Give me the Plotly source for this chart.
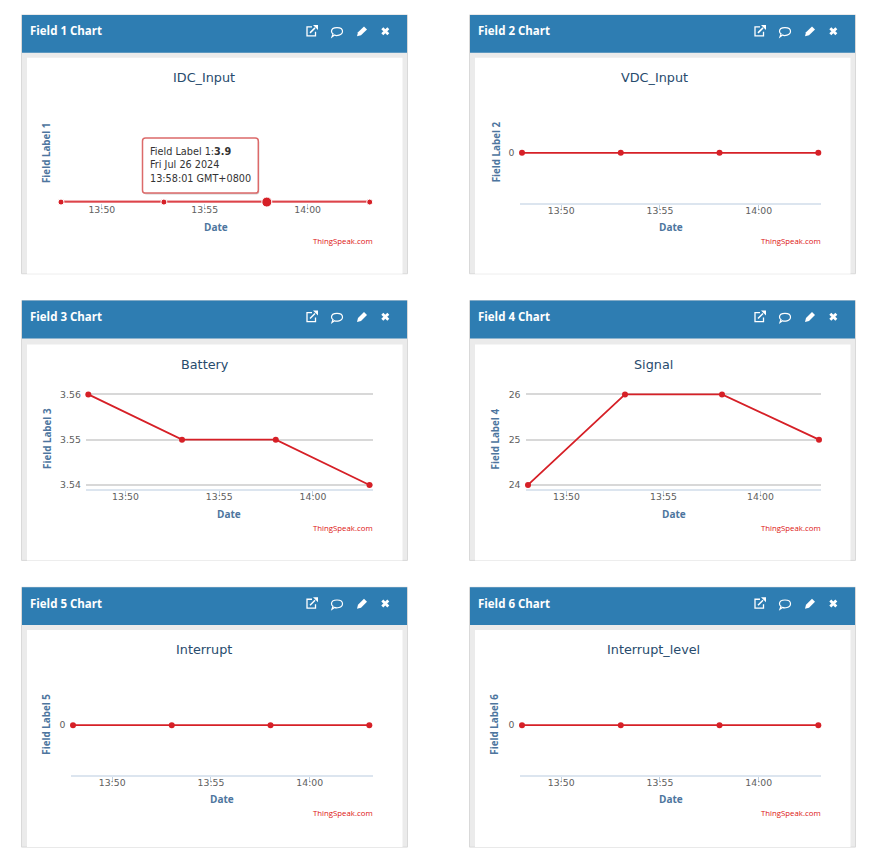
import numpy as np
import plotly.graph_objects as go

W, H = 894, 866

times = ["2024-07-26 13:48:01", "2024-07-26 13:53:01", "2024-07-26 13:58:01", "2024-07-26 14:03:01"]
tick_times = ["2024-07-26 13:50:00", "2024-07-26 13:55:00", "2024-07-26 14:00:00"]
tick_labels = ["13:50", "13:55", "14:00"]

field1 = [3.9, 3.9, 3.9, 3.9]
field2 = [0, 0, 0, 0]
field3 = [3.56, 3.55, 3.55, 3.54]
field4 = [24, 26, 26, 25]
field5 = [0, 0, 0, 0]
field6 = [0, 0, 0, 0]

headers = ["Field 1 Chart", "Field 2 Chart", "Field 3 Chart", "Field 4 Chart", "Field 5 Chart", "Field 6 Chart"]
titles = ["IDC_Input", "VDC_Input", "Battery", "Signal", "Interrupt", "Interrupt_level"]
ylabels = ["Field Label 1", "Field Label 2", "Field Label 3", "Field Label 4", "Field Label 5", "Field Label 6"]
yticks = [[], [0], [3.54, 3.55, 3.56], [24, 25, 26], [0], [0]]
series = [field1, field2, field3, field4, field5, field6]

# pixel layout of each panel
P = [
    dict(top=12, ox=0, d0=61.0, d3=369.7, ref=(3.9, 200.0), per=None, axis=200.5, t=(204.3, 75), yl=(46.7, 151), dt=(215.7, 225), foot=239, inner=55),
    dict(top=12, ox=448, d0=522.0, d3=818.3, ref=(0, 150.5), per=None, axis=201, t=(654, 75), yl=(496, 150), dt=(670.5, 225), foot=239, inner=55),
    dict(top=299, ox=0, d0=88.3, d3=369.5, ref=(3.55, 438.7), per=4550, axis=488.7, t=(205, 363.5), yl=(48, 438), dt=(229, 513), foot=527, inner=343),
    dict(top=299, ox=448, d0=528.0, d3=819.0, ref=(25, 438.7), per=45.5, axis=488.7, t=(653, 363.5), yl=(495.5, 438), dt=(673.5, 513), foot=527, inner=343),
    dict(top=587, ox=0, d0=73.0, d3=369.3, ref=(0, 725.5), per=None, axis=776, t=(204, 650), yl=(47, 725), dt=(222, 800), foot=814, inner=630),
    dict(top=587, ox=448, d0=522.0, d3=818.3, ref=(0, 725.5), per=None, axis=776, t=(653.5, 650), yl=(495, 725), dt=(670.5, 800), foot=814, inner=630),
]

BLUE = "#2e7db2"
RED = "#d62027"
TITLE = "#274b6d"
AXT = "#4d759e"
LAB = "#606060"
FONT = "DejaVu Sans"
HEAD = "Open Sans"


def fx(x):
    return x / W


def fy(y):
    return 1 - y / H


def path(tokens):
    out = []
    i = 0
    while i < len(tokens):
        t = tokens[i]
        if isinstance(t, str):
            out.append(t)
            i += 1
        else:
            out.append(f"{fx(t):.5f},{fy(tokens[i + 1]):.5f}")
            i += 2
    return " ".join(out)


shapes, ann = [], []


def rect(x0, y0, x1, y1, fill, line=None, lw=0):
    shapes.append(dict(type="rect", xref="paper", yref="paper", x0=fx(x0), x1=fx(x1), y0=fy(y0), y1=fy(y1),
                       fillcolor=fill, line=dict(color=line or fill, width=lw), layer="below"))


def pth(tokens, fill=None, line=None, lw=0, layer="below"):
    s = dict(type="path", xref="paper", yref="paper", path=path(tokens), layer=layer,
             line=dict(color=line or "rgba(0,0,0,0)", width=lw))
    if fill:
        s["fillcolor"] = fill
    shapes.append(s)


def text(x, y, s, size, color, family=FONT, xa="center", angle=0):
    ann.append(dict(xref="paper", yref="paper", x=fx(x), y=fy(y), text=s, showarrow=False, xanchor=xa,
                    yanchor="middle", textangle=angle, borderpad=0, font=dict(size=size, color=color, family=family)))


def icons(ox, oy):
    # external link
    pth(["M", 312 + ox, 24 + oy, "L", 307 + ox, 24 + oy, "L", 307 + ox, 33 + oy, "L", 315.5 + ox, 33 + oy, "L", 315.5 + ox, 29 + oy],
        line="white", lw=1.3)
    pth(["M", 310 + ox, 30 + oy, "L", 315 + ox, 25 + oy], line="white", lw=1.5)
    pth(["M", 313 + ox, 22 + oy, "L", 318 + ox, 22 + oy, "L", 318 + ox, 27 + oy, "Z"], fill="white")
    # comment bubble
    cx, cy = 337 + ox, 28.5 + oy
    pth(["M", cx - 5.5, cy, "C", cx - 5.5, cy - 5, cx + 5.5, cy - 5, cx + 5.5, cy,
         "C", cx + 5.5, cy + 4.5, cx - 1, cy + 4.5, cx - 2.5, cy + 3.7,
         "L", cx - 5, cy + 5.5, "L", cx - 4, cy + 2.5, "C", cx - 5, cy + 2, cx - 5.5, cy + 1, cx - 5.5, cy, "Z"],
        line="white", lw=1.2)
    # pencil
    pth(["M", 357 + ox, 33.5 + oy, "L", 358 + ox, 29.5 + oy, "L", 364 + ox, 23.5 + oy, "L", 367 + ox, 26.5 + oy,
         "L", 361 + ox, 32.5 + oy, "Z"], fill="white")
    # cross
    c, d = 385.3 + ox, 28.3 + oy
    pth(["M", c - 3, d - 3, "L", c + 3, d + 3, "M", c + 3, d - 3, "L", c - 3, d + 3], line="white", lw=2.8)


fig = go.Figure()
t_ms = np.array(times, dtype="datetime64[ms]").astype("int64")
layout_axes = {}

for i, p in enumerate(P):
    n = i + 1
    top, ox = p["top"], p["ox"]
    bottom = 260 if top == 12 else 261
    rect(21.5 + ox, top, 407.5 + ox, top + bottom, "#ebebeb", "#d9d9d9", 1)
    rect(27 + ox, p["inner"], 402.5 + ox, top + bottom, "white")
    rect(22 + ox, top, 407 + ox, top + 38, BLUE)
    icons(ox, top - 12)
    text(28.5 + ox, top + 16, f"<b>{headers[i]}</b>", 11.5, "white", HEAD, xa="left")
    text(p["t"][0], p["t"][1], titles[i], 12.8, TITLE)
    text(p["yl"][0], p["yl"][1], f"<b>{ylabels[i]}</b>", 9.8, AXT, HEAD, angle=-90)
    text(p["dt"][0], p["dt"][1], "<b>Date</b>", 10, AXT, HEAD)
    text(373.5 + ox, p["foot"], "ThingSpeak.com", 7.8, "#dd1111", HEAD, xa="right")

    # axes: map pixel plot box onto data scale
    left = p["d0"] - 2.5
    right = 373 + ox
    ms_per_px = (t_ms[3] - t_ms[0]) / (p["d3"] - p["d0"])
    xr0 = t_ms[0] - (p["d0"] - left) * ms_per_px
    xr1 = t_ms[3] + (right - p["d3"]) * ms_per_px
    xr = [str(np.datetime64(int(xr0), "ms")).replace("T", " "), str(np.datetime64(int(xr1), "ms")).replace("T", " ")]

    box_top = p["axis"] - 100 if p["per"] is None else 390
    rv, rp = p["ref"]
    per = p["per"] or 1.0  # px per data unit
    y_lo = rv - (p["axis"] - rp) / per
    y_hi = rv + (rp - box_top) / per

    xn = "xaxis" if n == 1 else f"xaxis{n}"
    yn = "yaxis" if n == 1 else f"yaxis{n}"
    layout_axes[xn] = dict(domain=[fx(left), fx(right)], range=xr, type="date", anchor=f"y{n if n > 1 else ''}",
                           tickmode="array", tickvals=tick_times, ticktext=tick_labels,
                           ticks="outside", ticklen=5, tickwidth=1, tickcolor="#c0d0e0",
                           ticklabelstandoff=-7,
                           showline=True, linecolor="#dce5ef" if i != 0 else "rgba(0,0,0,0)", linewidth=1.5,
                           showgrid=False, zeroline=False, tickfont=dict(size=9.3, color=LAB, family=FONT))
    layout_axes[yn] = dict(domain=[fy(p["axis"]), fy(box_top)], range=[y_lo, y_hi], anchor=f"x{n if n > 1 else ''}",
                           tickmode="array", tickvals=yticks[i], ticktext=[str(v) for v in yticks[i]],
                           showticklabels=bool(yticks[i]), ticks="", ticklabelstandoff=4,
                           showgrid=i in (2, 3), gridcolor="#d8d8d8", gridwidth=1.5, zeroline=False, showline=False,
                           tickfont=dict(size=9.3, color=LAB, family=FONT))

    xa = "x" if n == 1 else f"x{n}"
    ya = "y" if n == 1 else f"y{n}"
    if i == 0:
        fig.add_trace(go.Scatter(x=times, y=series[i], xaxis=xa, yaxis=ya, mode="lines", cliponaxis=False,
                                 line=dict(color="rgba(214,32,39,0.35)", width=4), showlegend=False, hoverinfo="skip"))
    sizes = [6, 6, 10, 6] if i == 0 else 6
    fig.add_trace(go.Scatter(x=times, y=series[i], xaxis=xa, yaxis=ya, mode="lines+markers", cliponaxis=False,
                             line=dict(color=RED, width=1.8), marker=dict(color=RED, size=sizes, opacity=1),
                             name=ylabels[i], showlegend=False))

# tooltip
x0, x1, y0, y1, r = 142.5, 258.3, 135.7, 191, 3
def rr(dx=0, dy=0):
    a, b, c, d = x0 + dx, x1 + dx, y0 + dy, y1 + dy
    return ["M", a + r, c, "L", b - r, c, "Q", b, c, b, c + r, "L", b, d - r, "Q", b, d, b - r, d,
            "L", a + r, d, "Q", a, d, a, d - r, "L", a, c + r, "Q", a, c, a + r, c, "Z"]
pth(rr(1, 1.5), fill="rgba(0,0,0,0.18)", layer="above")
pth(rr(), fill="white", line="#dc6a6a", lw=1.5, layer="above")
text(148.5, 149.5, f"Field Label 1:<b>{field1[2]}</b>", 9.7, "#333333", xa="left")
text(148.5, 162.5, "Fri Jul 26 2024", 9.7, "#333333", xa="left")
text(148.5, 176.3, "13:58:01 GMT+0800", 9.7, "#333333", xa="left")

fig.update_layout(width=W, height=H, margin=dict(l=0, r=0, t=0, b=0), paper_bgcolor="white",
                  plot_bgcolor="rgba(0,0,0,0)", shapes=shapes, annotations=ann, showlegend=False,
                  autosize=False, **layout_axes)
fig.write_html("out.html",
               post_script="document.documentElement.style.overflow='hidden';document.documentElement.style.height='866px';"
                           "document.body.style.margin='0';document.body.style.overflow='hidden';document.body.style.height='866px';",
               config=dict(displayModeBar=False))
